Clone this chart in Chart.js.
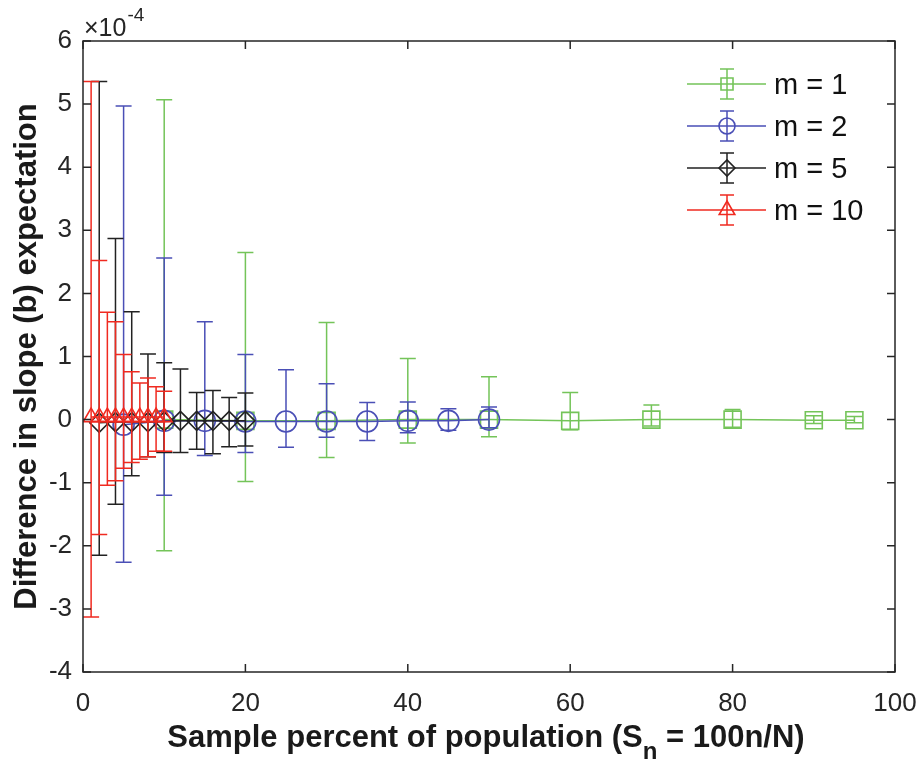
<!DOCTYPE html>
<html><head><meta charset="utf-8">
<script src="https://cdn.jsdelivr.net/npm/chart.js@4/dist/chart.umd.min.js"></script>
<style>html,body{margin:0;padding:0;background:#fff;}canvas{display:block;}</style>
</head><body>
<canvas id="c" width="924" height="767"></canvas>
<script>
// values in units of 1e-4
const xM1 = [10, 20, 30, 40, 50, 60, 70, 80, 90, 95];
const yM1 = [0.0, -0.02, -0.02, 0.0, 0.0, -0.02, 0.0, 0.0, -0.01, -0.01];
const upM1 = [5.07, 2.65, 1.54, 0.97, 0.68, 0.43, 0.23, 0.16, 0.06, 0.05];
const loM1 = [-2.08, -0.98, -0.60, -0.37, -0.27, -0.16, -0.10, -0.12, -0.06, -0.05];

const xM2 = [5, 10, 15, 20, 25, 30, 35, 40, 45, 50];
const yM2 = [-0.08, -0.02, -0.02, -0.03, -0.03, -0.03, -0.03, -0.02, -0.02, 0.0];
const upM2 = [4.97, 2.56, 1.55, 1.03, 0.79, 0.57, 0.27, 0.28, 0.17, 0.20];
const loM2 = [-2.26, -1.20, -0.57, -0.52, -0.44, -0.28, -0.33, -0.21, -0.17, -0.13];

const xM5 = [2, 4, 6, 8, 10, 12, 14, 16, 18, 20];
const yM5 = [-0.05, -0.04, -0.04, -0.04, -0.03, -0.02, -0.02, -0.02, -0.02, -0.02];
const upM5 = [5.36, 2.87, 1.71, 1.04, 0.90, 0.80, 0.43, 0.46, 0.35, 0.42];
const loM5 = [-2.15, -1.34, -0.89, -0.59, -0.52, -0.52, -0.47, -0.54, -0.43, -0.42];

const xM10 = [1, 2, 3, 4, 5, 6, 7, 8, 9, 10];
const yM10 = [0.04, 0.04, 0.04, 0.04, 0.04, 0.04, 0.04, 0.04, 0.04, 0.04];
const upM10 = [5.36, 2.52, 1.70, 1.55, 1.03, 0.76, 0.58, 0.66, 0.52, 0.45];
const loM10 = [-3.13, -1.82, -1.04, -0.97, -0.77, -0.68, -0.63, -0.59, -0.50, -0.50];

const seriesLabels = ['m = 1', 'm = 2', 'm = 5', 'm = 10'];
const xTickValues = [0, 20, 40, 60, 80, 100];
const yTickValues = [-4, -3, -2, -1, 0, 1, 2, 3, 4, 5, 6];
const yAxisTitle = 'Difference in slope (b) expectation';
const xTitleParts = ['Sample percent of population (S', 'n', ' = 100n/N)'];
const exponentBase = '\u00d710';
const exponentPower = '-4';

const colors = ['#74c459', '#4a4fb6', '#222222', '#f02a20'];
const styles = ['rect', 'circle', 'rectRot', 'triangle'];
const radii = [12, 10.5, 9.5, 9];
const legendRadii = [8.5, 8, 8, 9];

function pts(xs, ys) { return xs.map((x, i) => ({x: x, y: ys[i]})); }
const seriesX = [xM1, xM2, xM5, xM10];
const seriesY = [yM1, yM2, yM5, yM10];
const seriesUp = [upM1, upM2, upM5, upM10];
const seriesLo = [loM1, loM2, loM5, loM10];

const datasets = seriesLabels.map((lab, i) => ({
  label: lab,
  data: pts(seriesX[i], seriesY[i]),
  errUp: seriesUp[i],
  errLo: seriesLo[i],
  borderColor: colors[i],
  borderWidth: 1.5,
  pointStyle: styles[i],
  pointRadius: radii[i],
  pointHoverRadius: radii[i],
  pointBorderColor: colors[i],
  pointBackgroundColor: 'rgba(0,0,0,0)',
  pointBorderWidth: 1.6,
  fill: false,
  tension: 0,
  order: 4 - i
}));

const FONT = '"Liberation Sans", Arial, Helvetica, sans-serif';
const AX = '#262626';

const plugin = {
  id: 'matlabish',
  beforeDatasetDraw(chart, args) {
    const ds = chart.data.datasets[args.index];
    const ctx = chart.ctx, xs = chart.scales.x, ys = chart.scales.y;
    ctx.save();
    ctx.strokeStyle = ds.borderColor;
    ctx.lineWidth = 1.5;
    ds.data.forEach((p, j) => {
      const px = xs.getPixelForValue(p.x);
      const pu = ys.getPixelForValue(ds.errUp[j]);
      const pl = ys.getPixelForValue(ds.errLo[j]);
      ctx.beginPath();
      ctx.moveTo(px, pu); ctx.lineTo(px, pl);
      ctx.moveTo(px - 8, pu); ctx.lineTo(px + 8, pu);
      ctx.moveTo(px - 8, pl); ctx.lineTo(px + 8, pl);
      ctx.stroke();
    });
    ctx.restore();
  },
  afterDraw(chart) {
    const ctx = chart.ctx, a = chart.chartArea, xs = chart.scales.x, ys = chart.scales.y;
    ctx.save();
    // box + inward ticks
    ctx.strokeStyle = AX; ctx.lineWidth = 1.5;
    ctx.strokeRect(a.left, a.top, a.right - a.left, a.bottom - a.top);
    ctx.beginPath();
    xTickValues.forEach(v => {
      const px = xs.getPixelForValue(v);
      ctx.moveTo(px, a.bottom); ctx.lineTo(px, a.bottom - 8);
      ctx.moveTo(px, a.top); ctx.lineTo(px, a.top + 8);
    });
    yTickValues.forEach(v => {
      const py = ys.getPixelForValue(v);
      ctx.moveTo(a.left, py); ctx.lineTo(a.left + 8, py);
      ctx.moveTo(a.right, py); ctx.lineTo(a.right - 8, py);
    });
    ctx.stroke();

    // exponent
    ctx.fillStyle = AX;
    ctx.textBaseline = 'alphabetic';
    ctx.textAlign = 'left';
    ctx.font = '25px ' + FONT;
    ctx.fillText(exponentBase, a.left + 1, 36);
    const w = ctx.measureText(exponentBase).width;
    ctx.font = '19px ' + FONT;
    ctx.fillText(exponentPower, a.left + 1 + w + 1, 21);

    // x title with subscript
    ctx.fillStyle = '#1a1a1a';
    ctx.font = 'bold 31px ' + FONT;
    const w0 = ctx.measureText(xTitleParts[0]).width;
    const w2 = ctx.measureText(xTitleParts[2]).width;
    ctx.font = 'bold 24px ' + FONT;
    const w1 = ctx.measureText(xTitleParts[1]).width;
    const total = w0 + w1 + w2;
    let sx = (a.left + a.right) / 2 - total / 2 - 3;
    const by = 747;
    ctx.font = 'bold 31px ' + FONT;
    ctx.fillText(xTitleParts[0], sx, by);
    ctx.font = 'bold 24px ' + FONT;
    ctx.fillText(xTitleParts[1], sx + w0, by + 12);
    ctx.font = 'bold 31px ' + FONT;
    ctx.fillText(xTitleParts[2], sx + w0 + w1, by);

    // legend
    const lx0 = 687, lx1 = 766, mx = 727, tx = 774;
    chart.data.datasets.forEach((ds, i) => {
      const ly = 84 + i * 42;
      ctx.strokeStyle = ds.borderColor; ctx.lineWidth = 1.5;
      ctx.beginPath();
      ctx.moveTo(lx0, ly); ctx.lineTo(lx1, ly);
      ctx.moveTo(mx, ly - 15); ctx.lineTo(mx, ly + 15);
      ctx.moveTo(mx - 7, ly - 15); ctx.lineTo(mx + 7, ly - 15);
      ctx.moveTo(mx - 7, ly + 15); ctx.lineTo(mx + 7, ly + 15);
      ctx.stroke();
      ctx.lineWidth = 1.6;
      ctx.fillStyle = 'rgba(0,0,0,0)';
      Chart.helpers.drawPoint(ctx, {pointStyle: ds.pointStyle, radius: legendRadii[i], borderWidth: 1.6}, mx, ly);
      ctx.fillStyle = '#111';
      ctx.font = '29px ' + FONT;
      ctx.textBaseline = 'middle';
      ctx.fillText(ds.label, tx, ly + 2);
    });
    ctx.restore();
  }
};

new Chart(document.getElementById('c'), {
  type: 'line',
  data: { datasets: datasets },
  options: {
    responsive: false,
    animation: false,
    devicePixelRatio: 1,
    layout: { padding: { top: 41, right: 29, left: 0, bottom: 0 } },
    plugins: { legend: { display: false }, tooltip: { enabled: false } },
    scales: {
      x: {
        type: 'linear', min: 0, max: 100,
        afterFit(s) { s.height = 95; s.paddingLeft = 0; s.paddingRight = 0; },
        afterBuildTicks(s) { s.ticks = xTickValues.map(v => ({value: v})); },
        grid: { display: false, drawTicks: false },
        border: { display: false },
        ticks: { padding: 16, color: AX, font: { size: 26, family: FONT }, maxRotation: 0 },
        title: { display: false }
      },
      y: {
        type: 'linear', min: -4, max: 6,
        afterFit(s) { s.width = 83; s.paddingTop = 0; s.paddingBottom = 0; },
        afterBuildTicks(s) { s.ticks = yTickValues.map(v => ({value: v})); },
        grid: { display: false, drawTicks: false },
        border: { display: false },
        ticks: { padding: 11, color: AX, font: { size: 26, family: FONT } },
        title: { display: true, text: yAxisTitle, color: '#1a1a1a', font: { size: 31, weight: 'bold', family: FONT }, padding: { top: 9, bottom: 0 } }
      }
    }
  },
  plugins: [plugin]
});
</script>
</body></html>
